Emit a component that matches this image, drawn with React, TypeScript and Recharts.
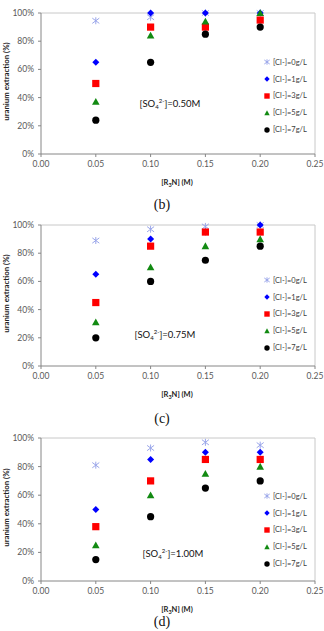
import React from 'react';
import { ScatterChart, Scatter, XAxis, YAxis, ReferenceLine } from 'recharts';

// x positions shared by all three panels
const amineConc = [0.05, 0.1, 0.15, 0.2];
const xTicks = [0, 0.05, 0.1, 0.15, 0.2, 0.25];
const yTicks = [0, 20, 40, 60, 80, 100];
const seriesNames = ['[Cl-]=0g/L', '[Cl-]=1g/L', '[Cl-]=3g/L', '[Cl-]=5g/L', '[Cl-]=7g/L'];

// (b) [SO4 2-]=0.50M
const b_cl0 = [94.5, 97, 100, 100];
const b_cl1 = [65, 100, 100, 100];
const b_cl3 = [50, 90, 90, 95];
const b_cl5 = [37, 84, 94, 100];
const b_cl7 = [24, 65, 85, 90];

// (c) [SO4 2-]=0.75M
const c_cl0 = [89, 97, 99, 100];
const c_cl1 = [65, 90, 95, 100];
const c_cl3 = [45, 85, 95, 95];
const c_cl5 = [31, 70, 85, 90];
const c_cl7 = [20, 60, 75, 85];

// (d) [SO4 2-]=1.00M
const d_cl0 = [81, 93, 97, 95];
const d_cl1 = [50, 85, 90, 90];
const d_cl3 = [38, 70, 85, 85];
const d_cl5 = [25, 60, 75, 80];
const d_cl7 = [15, 45, 65, 70];

const FONT = 'Lato, "Open Sans", sans-serif';
const AXIS = '#868686';

const toPoints = (ys: number[]) => amineConc.map((x, i) => ({ x, y: ys[i] }));

const Star = ({ cx, cy, r = 3.5 }: any) => (
  <g stroke="#9aa6ea" strokeWidth={1}>
    <line x1={cx - r} y1={cy - r * 0.75} x2={cx + r} y2={cy + r * 0.75} />
    <line x1={cx - r} y1={cy + r * 0.75} x2={cx + r} y2={cy - r * 0.75} />
    <line x1={cx} y1={cy - r} x2={cx} y2={cy + r} />
  </g>
);
const Diamond = ({ cx, cy, r = 3.5 }: any) => (
  <path d={`M${cx},${cy - r}L${cx + r},${cy}L${cx},${cy + r}L${cx - r},${cy}Z`} fill="#0000ff" />
);
const Square = ({ cx, cy, r = 3.6 }: any) => (
  <rect x={cx - r} y={cy - r} width={r * 2} height={r * 2} fill="#ff0000" />
);
const Triangle = ({ cx, cy, r = 3.8 }: any) => (
  <path d={`M${cx},${cy - r}L${cx + r},${cy + r * 0.8}L${cx - r},${cy + r * 0.8}Z`} fill="#128a12" />
);
const Dot = ({ cx, cy, r = 3.6 }: any) => <circle cx={cx} cy={cy} r={r} fill="#000000" />;

const shapes = [Star, Diamond, Square, Triangle, Dot];

const XTitle = (props: any) => {
  const vb = props.viewBox || { x: 41, y: 154, width: 274 };
  return (
    <text x={vb.x + vb.width / 2 - 1} y={vb.y + 31} textAnchor="middle" fontFamily={FONT} fontSize={7.5} fontWeight="bold" fill="#222">
      [R<tspan fontSize={5.5} dy={2}>3</tspan><tspan dy={-2}>N] (M)</tspan>
    </text>
  );
};

const YTitle = (props: any) => {
  const vb = props.viewBox || { x: 0, y: 13, height: 141 };
  const cy = vb.y + vb.height / 2 - 2;
  return (
    <text x={6} y={cy} transform={`rotate(-90 6 ${cy})`} textAnchor="middle" dominantBaseline="central" fontFamily={FONT} fontSize={7.8} fontWeight="bold" fill="#222">
      uranium extraction (%)
    </text>
  );
};

const LegendBox = ({ top }: { top: number }) => (
  <div style={{ position: 'absolute', left: 262, top, fontFamily: FONT, fontSize: 7.5, color: '#404040' }}>
    {seriesNames.map((name, i) => {
      const Shape = shapes[i];
      return (
        <div key={name} style={{ display: 'flex', alignItems: 'center', height: 16.8 }}>
          <svg width={10} height={10} style={{ marginRight: 1 }}>
            <Shape cx={5} cy={5} r={2.7} />
          </svg>
          <span>{name}</span>
        </div>
      );
    })}
  </div>
);

const Panel = ({ series, conc, caption, noteX, noteY, legendTop, height = 212, top = 13, plotH = 141, captionTop = 196 }: any) => (
  <div style={{ position: 'relative', width: 324, height }}>
    <ScatterChart width={324} height={top + plotH + 38} margin={{ top, right: 9, left: 0, bottom: 0 }}>
      <XAxis
        type="number"
        dataKey="x"
        domain={[0, 0.25]}
        ticks={xTicks}
        tickFormatter={(v: number) => v.toFixed(2)}
        stroke={AXIS}
        tickSize={3}
        tickMargin={4}
        height={38}
        tick={{ fontSize: 8.5, fill: '#595959', fontFamily: FONT }}
        label={<XTitle />}
      />
      <YAxis
        type="number"
        dataKey="y"
        domain={[0, 100]}
        ticks={yTicks}
        tickFormatter={(v: number) => `${v}%`}
        stroke={AXIS}
        tickSize={3}
        tickMargin={4}
        width={41}
        tick={{ fontSize: 8.5, fill: '#595959', fontFamily: FONT }}
        label={<YTitle />}
      />
      <ReferenceLine y={100} stroke="#c8c8c8" />
      <ReferenceLine x={0.25} stroke="#c8c8c8" />
      {series.map((ys: number[], i: number) => (
        <Scatter key={seriesNames[i]} name={seriesNames[i]} data={toPoints(ys)} shape={shapes[i]} isAnimationActive={false} />
      ))}
    </ScatterChart>
    <div style={{ position: 'absolute', left: noteX, top: noteY - 7, transform: 'translateX(-50%)', fontFamily: FONT, fontSize: 9.5, color: '#111', whiteSpace: 'nowrap' }}>
      [SO<sub style={{ fontSize: 6, verticalAlign: -2 }}>4</sub><sup style={{ fontSize: 6, verticalAlign: 4 }}>2-</sup>]={conc}
    </div>
    <LegendBox top={legendTop} />
    <div style={{ position: 'absolute', left: 0, width: 324, top: captionTop, textAlign: 'center', fontFamily: '"Liberation Serif", serif', fontSize: 14, lineHeight: '16px', color: '#111' }}>
      {caption}
    </div>
  </div>
);

export default function App() {
  return (
    <div style={{ position: 'absolute', left: 0, top: 0, width: 324, height: 631, background: '#fff', overflow: 'hidden' }}>
      <Panel series={[b_cl0, b_cl1, b_cl3, b_cl5, b_cl7]} conc="0.50M" caption="(b)" noteX={170} noteY={104} legendTop={54} captionTop={197} />
      <Panel series={[c_cl0, c_cl1, c_cl3, c_cl5, c_cl7]} conc="0.75M" caption="(c)" noteX={165} noteY={123} legendTop={60} captionTop={199} />
      <Panel series={[d_cl0, d_cl1, d_cl3, d_cl5, d_cl7]} conc="1.00M" caption="(d)" noteX={173} noteY={130} legendTop={64} height={207} top={14} plotH={143} captionTop={190} />
    </div>
  );
}
